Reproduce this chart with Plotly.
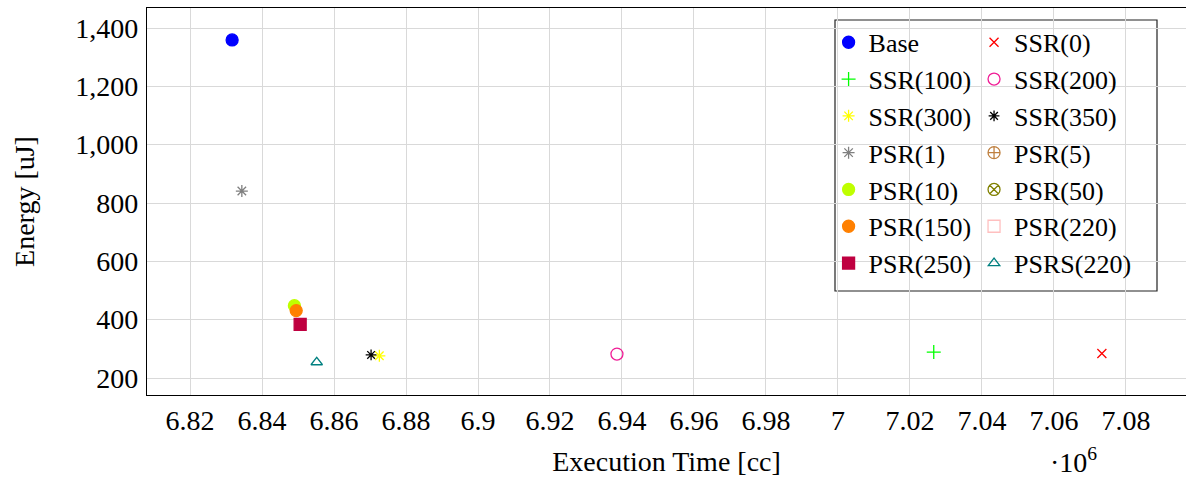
import plotly.graph_objects as go

# Execution time in clock cycles and energy in microjoules for each configuration
# (None marks a configuration with no plotted point)
labels = ["Base", "SSR(0)", "SSR(100)", "SSR(200)", "SSR(300)", "SSR(350)",
          "PSR(1)", "PSR(5)", "PSR(10)", "PSR(50)", "PSR(150)", "PSR(220)",
          "PSR(250)", "PSRS(220)"]
exec_time = [[6831700], [7073300], [7026600], [6938600], [6872600], [6870300],
             [6834400], [None], [6849000], [None], [6849500], [None],
             [6850600], [6855200]]
energy = [[1359], [284], [289], [282], [276], [279],
          [841], [None], [448], [None], [431], [None],
          [384], [254]]

colors = ["#0000FF", "#FF0000", "#00FF00", "#F01D96", "#FFFF00", "#000000",
          "#808080", "#BF8040", "#BFFF00", "#808000", "#FF8000", "#FFBFBF",
          "#BF0040", "#008080"]
symbols = ["circle", "x-thin-open", "cross-thin-open", "circle-open", "asterisk-open",
           "asterisk-open", "asterisk-open", "circle-cross-open", "circle",
           "circle-x-open", "circle", "square-open", "square", "triangle-up-open"]
sizes = [12, 9, 10, 12, 10, 9, 10, 12, 12, 12, 12, 12, 12, 10]

x_ticks = [6.82e6, 6.84e6, 6.86e6, 6.88e6, 6.90e6, 6.92e6, 6.94e6, 6.96e6,
           6.98e6, 7.00e6, 7.02e6, 7.04e6, 7.06e6, 7.08e6]
x_tick_text = ["6.82", "6.84", "6.86", "6.88", "6.9", "6.92", "6.94", "6.96",
               "6.98", "7", "7.02", "7.04", "7.06", "7.08"]
y_ticks = [200, 400, 600, 800, 1000, 1200, 1400]

FONT = "Liberation Serif, serif"

fig = go.Figure()
for i, name in enumerate(labels):
    fig.add_trace(go.Scatter(
        x=exec_time[i], y=energy[i], mode="markers", name=name,
        legend="legend" if i % 2 == 0 else "legend2",
        marker=dict(symbol=symbols[i], size=sizes[i], color=colors[i],
                    line=dict(color=colors[i], width=1.3)),
    ))

fig.update_layout(
    width=1186, height=483,
    margin=dict(l=147, r=0, t=8, b=88),
    plot_bgcolor="white", paper_bgcolor="white",
    font=dict(family=FONT, size=28, color="black"),
    showlegend=True,
    legend=dict(x=0.656, y=0.972, xanchor="left", yanchor="top",
                bgcolor="rgba(0,0,0,0)", borderwidth=0,
                font=dict(family=FONT, size=26), tracegroupgap=0,
                itemwidth=30),
    legend2=dict(x=0.796, y=0.972, xanchor="left", yanchor="top",
                 bgcolor="rgba(0,0,0,0)", borderwidth=0,
                 font=dict(family=FONT, size=26), tracegroupgap=0,
                 itemwidth=30),
    shapes=[dict(type="rect", xref="paper", yref="paper",
                 x0=(835 - 147) / 1039, x1=(1157 - 147) / 1039,
                 y0=(395 - 291) / 387, y1=(395 - 20) / 387,
                 line=dict(color="#222222", width=1.2),
                 fillcolor="white", layer="below")],
    annotations=[dict(text="·10<sup>6</sup>", xref="paper", yref="paper",
                      x=(1073 - 147) / 1039, y=-0.17, xanchor="center",
                      yanchor="middle", showarrow=False,
                      font=dict(family=FONT, size=28))],
)

fig.update_xaxes(
    range=[6808056, 7096670], tickvals=x_ticks, ticktext=x_tick_text,
    showgrid=True, gridcolor="#d9d9d9", gridwidth=1,
    showline=True, linecolor="black", linewidth=1.3, mirror=True,
    zeroline=False, ticks="", ticklabelstandoff=0,
    title=dict(text="Execution Time [cc]", standoff=16,
               font=dict(family=FONT, size=28)),
)
fig.update_yaxes(
    range=[141.7, 1468.6], tickvals=y_ticks, tickformat=",d",
    showgrid=True, gridcolor="#d9d9d9", gridwidth=1,
    showline=True, linecolor="black", linewidth=1.3,
    zeroline=False, ticks="", ticklabelstandoff=2,
    title=dict(text="Energy [uJ]", standoff=32,
               font=dict(family=FONT, size=28)),
)

fig.write_html("out.html")
